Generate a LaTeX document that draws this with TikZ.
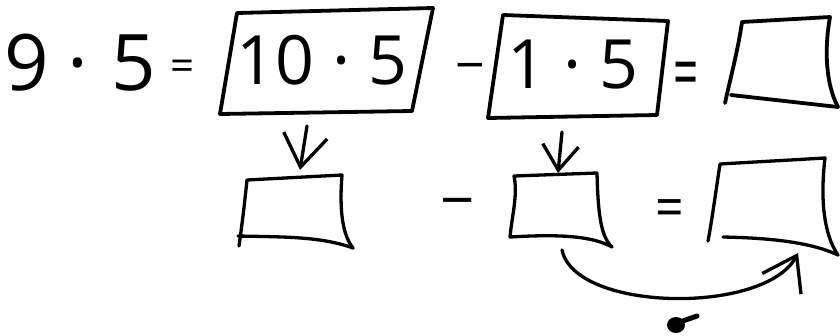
\documentclass[tikz,border=0pt]{standalone}
\usepackage{fontspec}
\setmainfont{Open Sans}
\usetikzlibrary{arrows.meta}
\begin{document}
\begin{tikzpicture}[x=1pt,y=-1pt,
  box/.style={line width=3.8pt, line cap=round, line join=round},
  thinbox/.style={line width=3.3pt, line cap=round, line join=round},
  big/.style={font=\fontsize{78}{78}\selectfont, inner sep=0pt, anchor=base},
  mid/.style={font=\fontsize{68}{68}\selectfont, inner sep=0pt, anchor=base},
  op/.style={inner sep=0pt, anchor=base},
  conn/.style={line width=3.3pt, line cap=round,
    -{Straight Barb[length=32pt,width=44pt,line width=3.3pt]}},
]
\useasboundingbox (0,0) rectangle (840,335);
% left equation
\node[big] (n9) at (27,90) {9};
\node[big] (dot1) at (78,90) {·};
\node[big] (n5) at (134,90) {5};
\node[op, font=\fontsize{42}{42}\selectfont] (eq1) at (183,80) {=};
% box 1
\coordinate (b1nw) at (237,13);
\coordinate (b1ne) at (433,8);
\coordinate (b1se) at (412,111);
\coordinate (b1sw) at (220,114);
\draw[box] (b1nw) -- (b1ne) -- (b1se) -- (b1sw) -- cycle;
\node[mid] (t1) at (322,84) {10 · 5};
\node[op, font=\fontsize{52}{52}\selectfont] (mi1) at (470,83) {−};
% box 2
\coordinate (b2nw) at (503,15);
\coordinate (b2ne) at (668,21);
\coordinate (b2se) at (657,115);
\coordinate (b2sw) at (488,118);
\draw[box] (b2nw) -- (b2ne) -- (b2se) -- (b2sw) -- cycle;
\node[mid] (t2) at (573,88) {1 · 5};
\node[op, font=\fontsize{44}{44}\selectfont] (eq2) at (686,98) {\scalebox{1}[1.7]{=}};
% box 3
\coordinate (b3nw) at (742,22);
\coordinate (b3ne) at (830,17);
\coordinate (b3se) at (838,107);
\coordinate (b3sw) at (725,103);
\coordinate (b3bl) at (731,95);
\draw[box] (b3sw) .. controls (730,80) and (738,50) .. (b3nw) -- (b3ne)
  .. controls (824,50) and (826,85) .. (b3se);
\draw[box] (b3bl) -- (b3se);
% box 4
\coordinate (b4nw) at (247,180);
\coordinate (b4ne) at (342,175);
\coordinate (b4se) at (353,248);
\coordinate (b4sw) at (239,246);
\coordinate (b4bl) at (238,236);
\draw[thinbox] (b4sw) .. controls (242,225) and (245,200) .. (b4nw) -- (b4ne)
  .. controls (340,200) and (340,232) .. (b4se);
\draw[thinbox] (b4bl) .. controls (280,237) and (320,236) .. (b4se);
\node[op, font=\fontsize{60}{60}\selectfont] (mi2) at (458,221) {−};
% box 5
\coordinate (b5nw) at (514,176);
\coordinate (b5ne) at (597,173);
\coordinate (b5se) at (612,247);
\coordinate (b5sw) at (510,237);
\draw[thinbox] (b5sw) .. controls (512,215) and (518,195) .. (b5nw) -- (b5ne)
  .. controls (598,210) and (600,236) .. (b5se);
\draw[thinbox] (b5sw) .. controls (560,234) and (592,236) .. (b5se);
\node[op, font=\fontsize{50}{50}\selectfont] (eq3) at (670,227) {\scalebox{1}[1.15]{=}};
% box 6
\coordinate (b6nw) at (720,164);
\coordinate (b6ne) at (825,158);
\coordinate (b6se) at (838,255);
\coordinate (b6sw) at (708,241);
\coordinate (b6bl) at (723,237);
\draw[thinbox] (b6sw) .. controls (712,220) and (716,190) .. (b6nw) -- (b6ne)
  .. controls (820,200) and (824,235) .. (b6se);
\draw[thinbox] (b6bl) .. controls (770,238) and (810,242) .. (b6se);
% arrows
\coordinate (a1s) at (307,126);
\coordinate (a1e) at (300,170);
\draw[conn] (a1s) -- (a1e);
\coordinate (a2s) at (562,132);
\coordinate (a2e) at (558,173);
\draw[conn, -{Straight Barb[length=25pt,width=36pt,line width=3.3pt]}] (a2s) -- (a2e);
\coordinate (a3s) at (562,250);
\coordinate (a3e) at (798,253);
\draw[conn] (a3s) .. controls (575,312) and (765,315) .. (a3e);
% mark
\fill (676,325) ellipse (9 and 8);
\draw[line width=5pt, line cap=round] (680,322) -- (697,316);
\end{tikzpicture}
\end{document}
